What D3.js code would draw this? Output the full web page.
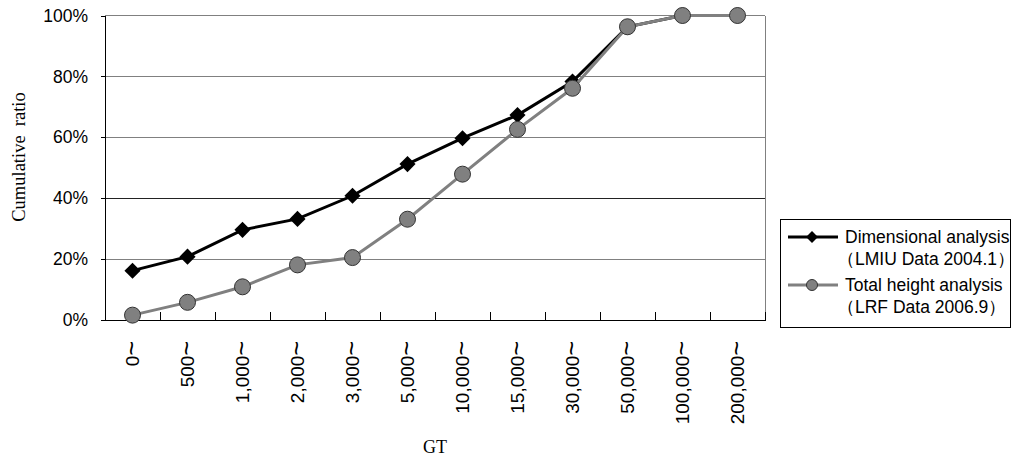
<!DOCTYPE html>
<html><head><meta charset="utf-8">
<script src="https://cdn.jsdelivr.net/npm/d3@7"></script>
<style>body{margin:0;background:#fff}svg{display:block}</style>
</head><body>
<script>
const categories = ["0~","500~","1,000~","2,000~","3,000~","5,000~","10,000~","15,000~","30,000~","50,000~","100,000~","200,000~"];
const dimensional = [16.2,20.8,29.6,33.2,40.8,51.2,59.7,67.3,78.3,96.3,100,100];
const totalHeight = [1.6,5.8,10.9,18.1,20.5,33.1,47.9,62.6,76.1,96.3,100,100];
const yTicks = [0,20,40,60,80,100];
const seriesNames = [["Dimensional analysis","（LMIU Data 2004.1）"],["Total height analysis","（LRF Data 2006.9）"]];

const W=1021,H=464;
const m={left:105,right:765,top:15.5,bottom:320};
const svg=d3.select("body").append("svg").attr("width",W).attr("height",H);
const x=d3.scaleBand().domain(categories).range([m.left,m.right]);
const y=d3.scaleLinear().domain([0,100]).range([m.bottom,m.top]);
const sans="'Liberation Sans',Arial,sans-serif", serif="'Liberation Serif','Times New Roman',serif";

// grid
svg.append("g").selectAll("line").data(yTicks.filter(d=>d>0)).join("line")
 .attr("x1",m.left).attr("x2",m.right).attr("y1",d=>y(d)).attr("y2",d=>y(d))
 .attr("stroke",d=>d===40?"#222":"#808080").attr("stroke-width",1).attr("shape-rendering","crispEdges");
svg.append("line").attr("x1",m.right).attr("x2",m.right).attr("y1",m.top).attr("y2",m.bottom)
 .attr("stroke","#808080").attr("shape-rendering","crispEdges");

// y axis
const ya=svg.append("g").attr("transform",`translate(${m.left},0)`)
 .call(d3.axisLeft(y).tickValues(yTicks).tickFormat(d=>d+"%").tickSize(4).tickPadding(13));
ya.select(".domain").attr("stroke","#000").attr("shape-rendering","crispEdges");
ya.selectAll(".tick line").attr("stroke","#000").attr("shape-rendering","crispEdges");
ya.selectAll("text").attr("font-family",sans).attr("font-size",17.5).attr("fill","#000");

// x axis
const xa=svg.append("g").attr("transform",`translate(0,${m.bottom})`)
 .call(d3.axisBottom(x).tickSize(0).tickPadding(0));
xa.select(".domain").attr("stroke","#000").attr("shape-rendering","crispEdges");
xa.selectAll(".tick text").each(function(d){
  const t=d3.select(this).text("");
  t.attr("font-family",sans).attr("font-size",19).attr("fill","#000")
   .attr("transform","rotate(-90)").attr("text-anchor","end").attr("dy","0.35em").attr("x",-21).attr("y",0);
  t.append("tspan").text(d.slice(0,-1));
  t.append("tspan").attr("font-size",25).attr("dy","0.02em").text(d.slice(-1));
});
// band boundary ticks (inside)
svg.append("g").selectAll("line").data(categories.slice(1).concat(["__end"])).join("line")
 .attr("x1",d=>d==="__end"?m.right:x(d)).attr("x2",d=>d==="__end"?m.right:x(d))
 .attr("y1",m.bottom-8).attr("y2",m.bottom).attr("stroke","#000").attr("shape-rendering","crispEdges");

const cx=(d,i)=>x(categories[i])+x.bandwidth()/2;
const line=d3.line().x((d,i)=>cx(d,i)).y(d=>y(d));
svg.append("path").datum(dimensional).attr("d",line).attr("fill","none").attr("stroke","#000").attr("stroke-width",3);
svg.append("g").selectAll("path").data(dimensional).join("path")
 .attr("d",d3.symbol(d3.symbolDiamond2,165)())
 .attr("transform",(d,i)=>`translate(${cx(d,i)},${y(d)})`).attr("fill","#000");
svg.append("path").datum(totalHeight).attr("d",line).attr("fill","none").attr("stroke","#808080").attr("stroke-width",3);
svg.append("g").selectAll("circle").data(totalHeight).join("circle")
 .attr("cx",(d,i)=>cx(d,i)).attr("cy",d=>y(d)).attr("r",8)
 .attr("fill","#808080").attr("stroke","#333").attr("stroke-width",1);

// axis titles
svg.append("text").attr("x",(m.left+m.right)/2).attr("y",453).attr("text-anchor","middle")
 .attr("font-family",serif).attr("font-size",18).text("GT");
svg.append("text").attr("transform","translate(25,157) rotate(-90)").attr("text-anchor","middle")
 .attr("font-family",serif).attr("font-size",18.5).style("white-space","pre").text("Cumulative  ratio");

// legend
const lg=svg.append("g");
lg.append("rect").attr("x",780.5).attr("y",219.5).attr("width",230).attr("height",107.5)
 .attr("fill","#fff").attr("stroke","#000").attr("shape-rendering","crispEdges");
const ly=[237,285];
lg.append("line").attr("x1",788).attr("x2",838).attr("y1",ly[0]).attr("y2",ly[0]).attr("stroke","#000").attr("stroke-width",3);
lg.append("path").attr("d",d3.symbol(d3.symbolDiamond2,90)()).attr("transform",`translate(812,${ly[0]})`).attr("fill","#000");
lg.append("line").attr("x1",788).attr("x2",838).attr("y1",ly[1]).attr("y2",ly[1]).attr("stroke","#808080").attr("stroke-width",3);
lg.append("circle").attr("cx",812).attr("cy",ly[1]).attr("r",5.5).attr("fill","#808080").attr("stroke","#333");
seriesNames.forEach((nm,k)=>{
  nm.forEach((t,j)=>{
    lg.append("text").attr("x",j===0?845:837).attr("y",ly[k]+j*22).attr("dy","0.35em")
     .attr("font-family",sans).attr("font-size",17.5).text(t);
  });
});
</script>
</body></html>
